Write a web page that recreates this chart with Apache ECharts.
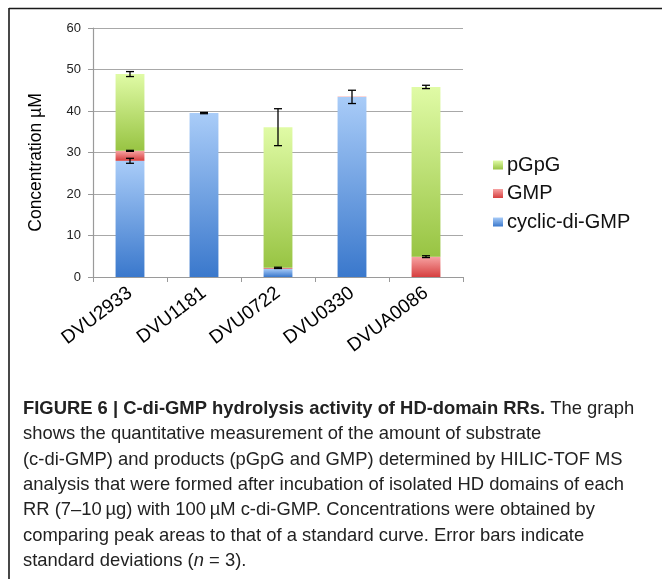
<!DOCTYPE html>
<html>
<head>
<meta charset="utf-8">
<script src="https://cdn.jsdelivr.net/npm/echarts@6/dist/echarts.min.js"></script>
<style>
  html, body { margin: 0; padding: 0; background: #fff; }
  #chart { width: 662px; height: 579px; }
</style>
</head>
<body>
<div id="chart"></div>
<script>
// Response regulators tested
const categories = ['DVU2933', 'DVU1181', 'DVU0722', 'DVU0330', 'DVUA0086'];

// Concentrations (µM), stacked from the bottom
const cyclicDiGmp = [28.0, 39.5, 2.0, 43.4, 0];
const gmp = [2.4, 0, 0.2, 0.1, 4.9];
const pgpg = [18.5, 0, 33.9, 0, 40.9];

// Standard deviations drawn at the top of each segment
const cyclicDiGmpSd = [0.6, 0.15, null, 1.6, null];
const gmpSd = [0.12, null, 0.15, null, 0.22];
const pgpgSd = [0.6, null, 4.45, null, 0.4];

const yTicks = { min: 0, max: 60, step: 10 };

const captionBold = 'FIGURE 6 | C-di-GMP hydrolysis activity of HD-domain RRs.';
const captionLines = [
  ' The graph',
  'shows the quantitative measurement of the amount of substrate',
  '(c-di-GMP) and products (pGpG and GMP) determined by HILIC-TOF MS',
  'analysis that were formed after incubation of isolated HD domains of each',
  'RR (7\u201310\u2009\u00b5g) with 100\u2009\u00b5M c-di-GMP. Concentrations were obtained by',
  'comparing peak areas to that of a standard curve. Error bars indicate',
  'standard deviations ('
];

function grad(top, bottom) {
  return new echarts.graphic.LinearGradient(0, 0, 0, 1, [
    { offset: 0, color: top },
    { offset: 1, color: bottom }
  ]);
}

const blueFill = grad('#a9ccf8', '#3a78cc');
const redFill = grad('#f7a3a3', '#d63f3f');
const greenFill = grad('#e0fba6', '#98c443');

// cumulative tops for the error bars
const cdgTop = cyclicDiGmp.slice();
const gmpTop = cyclicDiGmp.map((v, i) => v + gmp[i]);
const pgpgTop = gmpTop.map((v, i) => v + pgpg[i]);

const errData = [];
categories.forEach((c, i) => {
  if (cyclicDiGmpSd[i] != null) errData.push([i, cdgTop[i], cyclicDiGmpSd[i]]);
  if (gmpSd[i] != null) errData.push([i, gmpTop[i], gmpSd[i]]);
  if (pgpgSd[i] != null) errData.push([i, pgpgTop[i], pgpgSd[i]]);
});

function renderErr(params, api) {
  const x = api.value(0);
  const y = api.value(1);
  const sd = api.value(2);
  const hi = api.coord([x, y + sd]);
  const lo = api.coord([x, y - sd]);
  const cap = 4;
  const st = { stroke: '#000', lineWidth: 1.3 };
  return {
    type: 'group',
    children: [
      { type: 'line', shape: { x1: hi[0], y1: hi[1], x2: lo[0], y2: lo[1] }, style: st },
      { type: 'line', shape: { x1: hi[0] - cap, y1: hi[1], x2: hi[0] + cap, y2: hi[1] }, style: st },
      { type: 'line', shape: { x1: lo[0] - cap, y1: lo[1], x2: lo[0] + cap, y2: lo[1] }, style: st }
    ]
  };
}

const captionFont = '"Liberation Sans", Arial, sans-serif';
const capSize = 18.4;
const lineH = 25.3;
const capTop = 400;
const captionGraphics = [];
// first line: bold lead-in followed by regular text
captionGraphics.push({
  type: 'text', left: 23, top: capTop,
  style: {
    text: '{b|' + captionBold + '}{r|' + captionLines[0] + '}',
    rich: {
      b: { fontFamily: captionFont, fontSize: capSize, fontWeight: 'bold', fill: '#222' },
      r: { fontFamily: captionFont, fontSize: capSize, fill: '#222' }
    }
  }
});
for (let k = 1; k < captionLines.length; k++) {
  const isLast = k === captionLines.length - 1;
  captionGraphics.push({
    type: 'text', left: 23, top: capTop + k * lineH,
    style: isLast ? {
      text: '{r|' + captionLines[k] + '}{i|n}{r| = 3).}',
      rich: {
        r: { fontFamily: captionFont, fontSize: capSize, fill: '#222' },
        i: { fontFamily: captionFont, fontSize: capSize, fontStyle: 'italic', fill: '#222' }
      }
    } : {
      text: captionLines[k], fontFamily: captionFont, fontSize: capSize, fill: '#222'
    }
  });
}

const chart = echarts.init(document.getElementById('chart'), null, { renderer: 'canvas' });
chart.setOption({
  animation: false,
  backgroundColor: '#fff',
  textStyle: { fontFamily: '"Liberation Sans", Arial, sans-serif' },
  grid: { left: 93, right: 199, top: 28, bottom: 302, containLabel: false },
  legend: {
    orient: 'vertical',
    left: 493,
    top: 155,
    padding: 0,
    itemWidth: 10,
    itemHeight: 9,
    itemGap: 8.5,
    icon: 'rect',
    data: ['pGpG', 'GMP', 'cyclic-di-GMP'],
    textStyle: { fontSize: 20, color: '#111', padding: [0, 0, 0, -1] }
  },
  xAxis: {
    type: 'category',
    data: categories,
    axisLine: { lineStyle: { color: '#9a9a9a', width: 1.2 } },
    axisTick: { show: true, length: 5, lineStyle: { color: '#9a9a9a' } },
    axisLabel: { rotate: 37, fontSize: 19, color: '#000', margin: 14 }
  },
  yAxis: {
    type: 'value',
    min: yTicks.min,
    max: yTicks.max,
    interval: yTicks.step,
    name: 'Concentration \u00b5M',
    nameLocation: 'middle',
    nameGap: 48,
    nameTextStyle: { fontSize: 17.5, color: '#000', padding: [0, 20, 0, 0] },
    axisLine: { show: true, lineStyle: { color: '#9a9a9a', width: 1.2 } },
    axisTick: { show: true, length: 5, lineStyle: { color: '#9a9a9a' } },
    axisLabel: { fontSize: 13, color: '#222', margin: 12 },
    splitLine: { lineStyle: { color: '#a8a8a8', width: 1.2 } }
  },
  series: [
    { name: 'cyclic-di-GMP', type: 'bar', stack: 'c', barWidth: '39%', data: cyclicDiGmp, itemStyle: { color: blueFill } },
    { name: 'GMP', type: 'bar', stack: 'c', data: gmp, itemStyle: { color: redFill } },
    { name: 'pGpG', type: 'bar', stack: 'c', data: pgpg, itemStyle: { color: greenFill } },
    { name: 'sd', type: 'custom', renderItem: renderErr, data: errData, z: 10, silent: true }
  ],
  graphic: [
    { type: 'line', shape: { x1: 9, y1: 8.5, x2: 662, y2: 8.5 }, style: { stroke: '#1a1a1a', lineWidth: 1.6 } },
    { type: 'line', shape: { x1: 9, y1: 8, x2: 9, y2: 579 }, style: { stroke: '#1a1a1a', lineWidth: 1.6 } }
  ].concat(captionGraphics)
});
</script>
</body>
</html>
